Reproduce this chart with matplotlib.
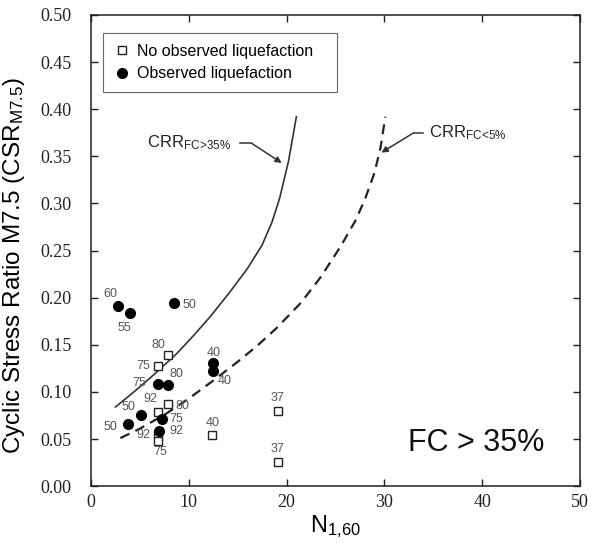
import numpy as np
import matplotlib
matplotlib.use("Agg")
import matplotlib.pyplot as plt

# =========================
# Data
# =========================
# CRR curves
crr_fc35_x = [2.5, 4.5, 6.5, 8.8, 10.5, 12.2, 14.2, 16.0, 17.5, 18.5, 19.3, 20.2, 21.0]
crr_fc35_y = [0.084, 0.101, 0.119, 0.141, 0.160, 0.180, 0.206, 0.231, 0.256, 0.280, 0.306, 0.345, 0.392]
crr_fc5_x = [3.0, 5.0, 7.7, 10.0, 12.5, 15.0, 17.0, 19.0, 21.5, 23.5, 25.5, 27.0, 28.0, 29.0, 29.6, 30.1]
crr_fc5_y = [0.051, 0.061, 0.077, 0.093, 0.112, 0.132, 0.149, 0.168, 0.195, 0.222, 0.254, 0.281, 0.304, 0.333, 0.359, 0.392]

# observed liquefaction (filled)
liq_n = [2.8, 4.0, 8.5, 6.8, 7.9, 12.5, 12.5, 5.1, 3.8, 7.3, 7.0]
liq_csr = [0.191, 0.184, 0.194, 0.108, 0.107, 0.131, 0.122, 0.075, 0.066, 0.071, 0.059]
liq_lab = ["60", "55", "50", "75", "80", "40", "40", "50", "50", "75", "92"]
liq_off = [(-6, 9), (-4, -11), (11, -1), (-13, 1), (6, 8), (0, 7), (8, -7), (-9, 6), (-13, -2), (10, 0), (12, 0)]

# no observed liquefaction (open)
noliq_n = [7.9, 6.8, 7.9, 6.8, 6.8, 6.8, 12.4, 19.1, 19.1]
noliq_csr = [0.139, 0.128, 0.087, 0.079, 0.054, 0.048, 0.054, 0.080, 0.026]
noliq_lab = ["80", "75", "80", "92", "92", "75", "40", "37", "37"]
noliq_off = [(-7, 7), (-10, 0), (10, -1), (-5, 9), (-10, 0), (2, -8), (0, 9), (0, 9), (0, 9)]

# =========================
# Plot style
# =========================
serif = "Liberation Serif"
sans = "Liberation Sans"
lab_color = "#555555"
plt.rcParams["mathtext.fontset"] = "custom"
plt.rcParams["mathtext.rm"] = sans
plt.rcParams["mathtext.it"] = sans
plt.rcParams["mathtext.bf"] = sans

fig = plt.figure(figsize=(5.93, 5.45), dpi=100)
ax = fig.add_axes([0.1535, 0.108, 0.8245, 0.8645])

ax.plot(crr_fc35_x, crr_fc35_y, color="#333333", linewidth=1.2)
ax.plot(crr_fc5_x, crr_fc5_y, color="#222222", linewidth=1.6, dashes=(4.5, 3))

ax.plot(noliq_n, noliq_csr, linestyle="none", marker="s", markersize=5.5,
        markerfacecolor="white", markeredgecolor="#222222", markeredgewidth=1.0,
        label="No observed liquefaction   ")
ax.plot(liq_n, liq_csr, linestyle="none", marker="o", markersize=7,
        color="black", label="Observed liquefaction")

for x, y, t, off in zip(liq_n, liq_csr, liq_lab, liq_off):
    ax.annotate(t, (x, y), xytext=off, textcoords="offset points",
                ha="center", va="center", fontsize=9, color=lab_color, family=sans)
for x, y, t, off in zip(noliq_n, noliq_csr, noliq_lab, noliq_off):
    ax.annotate(t, (x, y), xytext=off, textcoords="offset points",
                ha="center", va="center", fontsize=9, color=lab_color, family=sans)

# curve labels with leader arrows
ax.text(5.7, 0.364, r"CRR$_{\mathrm{FC\!>\!35\%}}$", fontsize=12, family=sans,
        va="center", ha="left", color="#222222")
ax.plot([15.2, 16.4], [0.364, 0.364], color="#333333", linewidth=1.1)
ax.annotate("", xy=(19.5, 0.343), xytext=(16.4, 0.364),
            arrowprops=dict(arrowstyle="-|>", color="#333333", lw=1.1,
                            mutation_scale=9, shrinkA=0, shrinkB=0))

ax.text(34.6, 0.375, r"CRR$_{\mathrm{FC\!<\!5\%}}$", fontsize=12, family=sans,
        va="center", ha="left", color="#222222")
ax.plot([33.0, 34.0], [0.375, 0.375], color="#333333", linewidth=1.1)
ax.annotate("", xy=(29.7, 0.354), xytext=(33.0, 0.375),
            arrowprops=dict(arrowstyle="-|>", color="#333333", lw=1.1,
                            mutation_scale=9, shrinkA=0, shrinkB=0))

ax.text(39.4, 0.0456, "FC > 35%", fontsize=22, family=sans,
        ha="center", va="center", color="#111111")

# axes
ax.set_xlim(0, 50)
ax.set_ylim(0, 0.5)
ax.set_xticks(np.arange(0, 51, 10))
ax.set_yticks(np.arange(0, 0.501, 0.05))
ax.set_yticklabels([f"{v:.2f}" for v in np.arange(0, 0.501, 0.05)])
ax.tick_params(direction="in", top=True, right=True, length=5, width=1.0,
               labelsize=13, colors="#222222")
ax.tick_params(axis="y", pad=14)
ax.tick_params(axis="x", pad=6)
for lbl in ax.get_xticklabels() + ax.get_yticklabels():
    lbl.set_family(serif)
for sp in ax.spines.values():
    sp.set_linewidth(1.1)
    sp.set_color("#222222")

ax.set_xlabel(r"N$_{1{,}60}$", fontsize=17, family=sans, labelpad=1)
ax.set_ylabel(r"Cyclic Stress Ratio M7.5 (CSR$_{\mathrm{M7.5}}$)", fontsize=17.5,
              family=sans)
ax.yaxis.set_label_coords(-0.131, 0.469)

leg = ax.legend(loc="upper left", bbox_to_anchor=(0.0245, 0.962), borderaxespad=0,
                frameon=True, fancybox=False, edgecolor="#444444",
                handletextpad=0.4, handlelength=1.0, borderpad=0.7,
                labelspacing=0.45, prop={"family": sans, "size": 11.5})
leg.get_frame().set_linewidth(0.8)

fig.savefig("out.png", dpi=100)
